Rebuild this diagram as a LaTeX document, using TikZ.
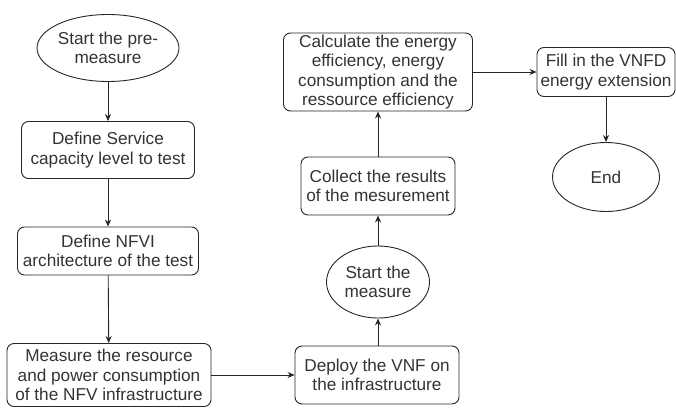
\documentclass[tikz,border=0pt]{standalone}
\usepackage{fontspec}
\setmainfont{Liberation Sans}
\usetikzlibrary{shapes.geometric,arrows.meta}
\begin{document}
\begin{tikzpicture}[x=1pt,y=-1pt,
  base/.style={draw=black!85,line width=0.9pt,inner sep=0pt,align=center,
    font=\fontsize{17.2}{19.5}\selectfont,text=black!80},
  stepbox/.style={base,rectangle,rounded corners=7pt},
  oval/.style={base,ellipse},
  conn/.style={draw=black!85,line width=0.9pt,-{Stealth[length=7pt,width=6pt]}}]
\useasboundingbox (0,0) rectangle (676,412);
\node[oval,minimum width=117pt,minimum height=67pt] (s1) at (108,48) {Start the pre-\\measure};
\node[stepbox,minimum width=173pt,minimum height=57pt] (n1) at (108,150) {Define Service\\capacity level to test};
\node[stepbox,minimum width=181pt,minimum height=48pt] (n2) at (108,251) {Define NFVI\\architecture of the test};
\node[stepbox,minimum width=204pt,minimum height=63pt] (n3) at (109,375) {Measure the resource\\and power consumption\\of the NFV infrastructure};
\node[stepbox,minimum width=164pt,minimum height=58pt] (n4) at (377,375) {Deploy the VNF on\\the infrastructure};
\node[oval,minimum width=103pt,minimum height=72pt] (s2) at (378,282) {Start the\\measure};
\node[stepbox,minimum width=154pt,minimum height=58pt] (n5) at (378,186) {Collect the results\\of the mesurement};
\node[stepbox,minimum width=189pt,minimum height=78pt] (n6) at (378,72) {Calculate the energy\\efficiency, energy\\consumption and the\\ressource efficiency};
\node[stepbox,minimum width=138pt,minimum height=49pt] (n7) at (606,72) {Fill in the VNFD\\energy extension};
\node[oval,minimum width=107pt,minimum height=69pt] (e) at (606,177) {End};
\draw[conn] (s1) -- (n1);
\draw[conn] (n1) -- (n2);
\draw[conn] (n2) -- (n3);
\draw[conn] (n3) -- (n4);
\draw[conn] (n4.north -| s2) -- (s2);
\draw[conn] (s2) -- (n5);
\draw[conn] (n5) -- (n6);
\draw[conn] (n6) -- (n7);
\draw[conn] (n7) -- (e);
\end{tikzpicture}
\end{document}
